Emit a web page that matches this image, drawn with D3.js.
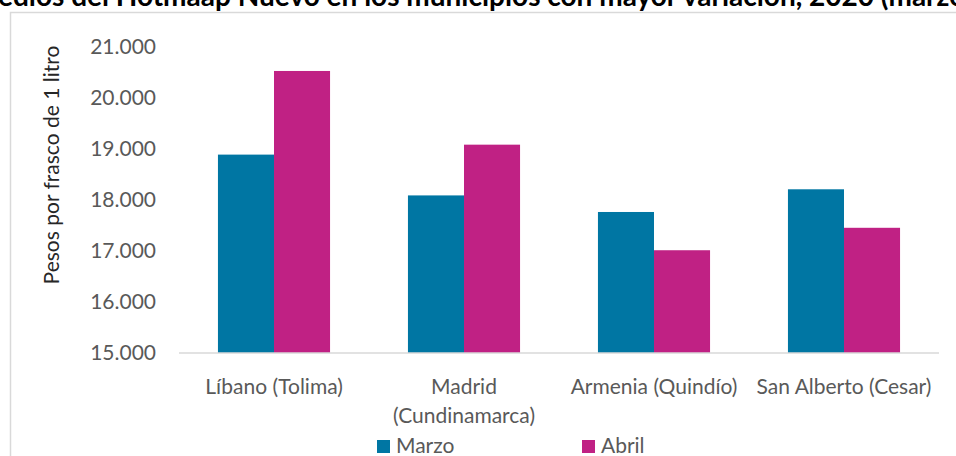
<!DOCTYPE html>
<html><head><meta charset="utf-8">
<script src="https://cdn.jsdelivr.net/npm/d3@7"></script>
<style>
body{margin:0;background:#fff;overflow:hidden;}
svg{display:block;}
text{font-family:Lato,"Open Sans",sans-serif;}
</style>
</head><body>
<svg id="c" width="956" height="456"></svg>
<script>
const categories = ["Líbano (Tolima)", "Madrid (Cundinamarca)", "Armenia (Quindío)", "San Alberto (Cesar)"];
const seriesNames = ["Marzo", "Abril"];
const marzo = [18890, 18090, 17765, 18210];
const abril = [20530, 19085, 17015, 17455];
const yTicks = [15000, 16000, 17000, 18000, 19000, 20000, 21000];
const titleText = "edios del Hotmaap Nuevo en los municipios con mayor variación, 2020 (marzo-abril)";
const yAxisTitle = "Pesos por frasco de 1 litro";
const colors = ["#0076A3", "#C02184"];

(function () {
const seriesValues = [marzo, abril];
const data = categories.map((c, i) => ({cat: c, vals: seriesNames.map((s, j) => ({s, j, v: seriesValues[j][i]}))}));

const svg = d3.select("#c");
const locale = d3.formatLocale({decimal: ",", thousands: ".", grouping: [3], currency: ["$", ""]});
const fmt = locale.format(",.0f");

// frame
svg.append("rect").attr("x", 10.5).attr("y", 12.5).attr("width", 1000).attr("height", 500)
  .attr("fill", "#fff").attr("stroke", "#d9d9d9").attr("stroke-width", 1.5);

// title (cut off at top, as in the reference)
svg.append("text").attr("x", -2).attr("y", 6)
  .attr("font-size", 28).attr("font-weight", "bold").attr("fill", "#000")
  .text(titleText);

const pLeft = 179, pRight = 939, pTop = 47, pBottom = 353;
const x = d3.scaleBand().domain(categories).range([pLeft, pRight]).paddingInner(0.41).paddingOuter(0.205);
const x1 = d3.scaleBand().domain(seriesNames).range([0, x.bandwidth()]).padding(0);
const y = d3.scaleLinear().domain([15000, 21000]).range([pBottom, pTop]);

// y axis
const yAxis = svg.append("g").attr("transform", `translate(${pLeft},0)`)
  .call(d3.axisLeft(y).tickValues(yTicks).tickFormat(fmt).tickSize(0).tickPadding(23));
yAxis.select(".domain").remove();
yAxis.selectAll("text").attr("font-size", 21).attr("fill", "#595959").attr("font-family", "Lato");

// bars
const g = svg.append("g");
g.selectAll("g.cat").data(data).join("g").attr("class", "cat")
  .attr("transform", d => `translate(${x(d.cat)},0)`)
  .selectAll("rect").data(d => d.vals).join("rect")
  .attr("x", d => x1(d.s)).attr("width", x1.bandwidth())
  .attr("y", d => y(d.v)).attr("height", d => y(15000) - y(d.v))
  .attr("fill", d => colors[d.j]);

// baseline
svg.append("line").attr("x1", pLeft).attr("x2", pRight).attr("y1", y(15000)).attr("y2", y(15000))
  .attr("stroke", "#d9d9d9").attr("stroke-width", 1.5);

// x labels
const xAxis = svg.append("g").attr("transform", `translate(0,${pBottom})`)
  .call(d3.axisBottom(x).tickSize(0).tickPadding(0));
xAxis.select(".domain").remove();
xAxis.selectAll("text").attr("font-size", 21).attr("fill", "#595959").attr("font-family", "Lato")
  .attr("dy", null).attr("y", 41)
  .each(function(d) {
    const t = d3.select(this);
    if (this.getComputedTextLength() > x.step() + 10) {
      const k = d.indexOf(" (");
      const parts = [d.slice(0, k), d.slice(k + 1)];
      t.text(null);
      parts.forEach((p, i) => t.append("tspan").attr("x", 0).attr("y", 41 + i * 29).text(p));
    }
  });

// y axis title
svg.append("text").attr("transform", `translate(59,165) rotate(-90)`)
  .attr("text-anchor", "middle").attr("font-size", 21).attr("fill", "#262626")
  .text(yAxisTitle);

// legend
const legendX = [377, 582];
const lg = svg.append("g").selectAll("g").data(seriesNames).join("g")
  .attr("transform", (d, i) => `translate(${legendX[i]},440)`);
lg.append("rect").attr("width", 13).attr("height", 13).attr("fill", (d, i) => colors[i]);
lg.append("text").attr("x", 19).attr("y", 13).attr("font-size", 21).attr("fill", "#595959").text(d => d);
})();
</script>
</body></html>
